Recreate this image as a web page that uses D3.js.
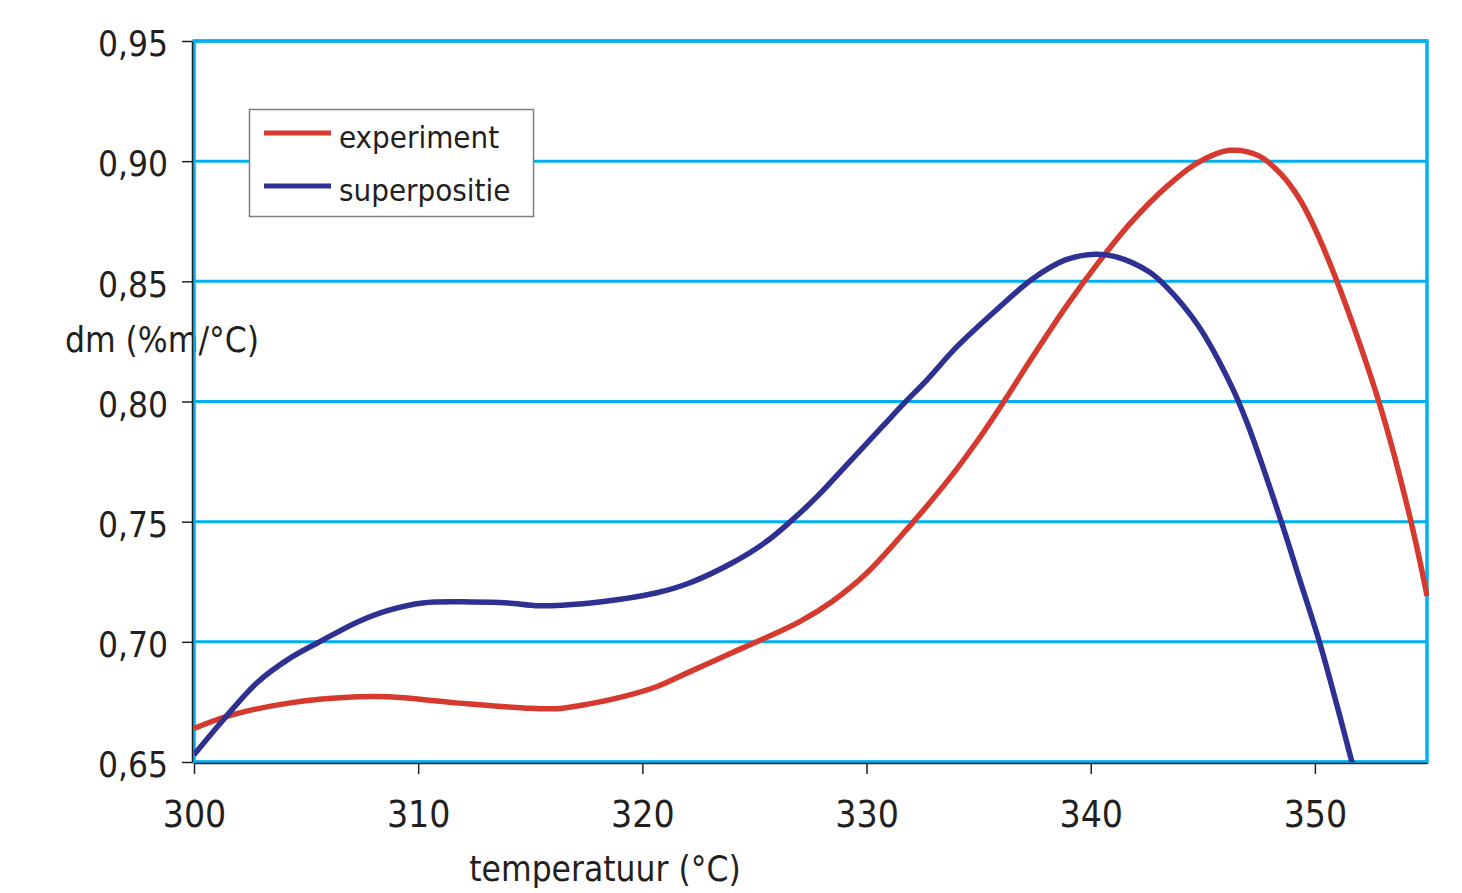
<!DOCTYPE html>
<html>
<head>
<meta charset="utf-8">
<script src="https://cdn.jsdelivr.net/npm/d3@7"></script>
<style>
    body { margin: 0; background: #fff; }
    text { font-family: "DejaVu Sans Condensed", "DejaVu Sans", sans-serif; font-stretch: condensed; fill: #231f20; }
</style>
</head>
<body>
<div id="chart"></div>
<script>

// experiment (red)
var expTemp = [300, 301.7, 304.3, 307.3, 308.7, 311.7, 314.7, 316.2, 317.7, 319.1, 320.6, 322.1, 324.0, 325.1,
    327.0, 328.5, 330.0, 332.0, 333.7, 335.2, 336.2, 337.4, 338.9, 340.4, 341.8, 343.4, 344.8, 346.2, 347.5,
    348.5, 349.3, 350.0, 350.9, 352.0, 352.85, 353.5, 354.05, 354.3, 354.95, 355];
var expVal = [0.664, 0.6696, 0.6746, 0.6771, 0.6771, 0.6746, 0.6725, 0.6722, 0.6743, 0.6771, 0.6812, 0.6875, 0.6955, 0.700,
    0.7083, 0.7170, 0.7285, 0.749, 0.768, 0.787, 0.801, 0.8185, 0.8395, 0.8585, 0.8745, 0.8895, 0.8995, 0.9045, 0.9022,
    0.8945, 0.8845, 0.872, 0.852, 0.824, 0.800, 0.779, 0.759, 0.7495, 0.7216, 0.719];

// superpositie (blue)
var supTemp = [300, 301.3, 302.8, 304.3, 305.6, 307.3, 308.7, 310.2, 312.4, 314.0, 315.4, 317.7, 319.1, 320.6, 322.1,
    324.0, 325.5, 326.6, 327.8, 329.2, 330.7, 331.7, 332.7, 334.0, 335.9, 337.4, 338.9, 340.2, 341.1, 342.6, 343.4,
    344.8, 346.3, 347.0, 348.5, 349.3, 350.2, 351.0, 351.65, 352];
var supVal = [0.653, 0.6675, 0.6829, 0.6933, 0.700, 0.7083, 0.7132, 0.7162, 0.7166, 0.7162, 0.715, 0.7162, 0.7178, 0.7203, 0.7245,
    0.7328, 0.7415, 0.750, 0.7605, 0.7745, 0.7895, 0.7995, 0.809, 0.8225, 0.839, 0.851, 0.859, 0.8613, 0.8603, 0.854, 0.8475,
    0.8315, 0.806, 0.7905, 0.750, 0.7265, 0.700, 0.673, 0.650, 0.637];

var xTicks = [300, 310, 320, 330, 340, 350];
var yTicks = [0.65, 0.70, 0.75, 0.80, 0.85, 0.90, 0.95];
var seriesNames = ["experiment", "superpositie"];
var seriesColors = ["#d63a2e", "#2e3192"];

var margin = {top: 41, right: 35, bottom: 131, left: 194},
    width = 1462 - margin.left - margin.right,
    height = 893 - margin.top - margin.bottom;

var svg = d3.select("#chart").append("svg")
    .attr("width", 1462)
    .attr("height", 893);

var x = d3.scaleLinear().domain([300, 355]).range([0, width]);
var y = d3.scaleLinear().domain([0.65, 0.95]).range([height, 0]);

var fmt = function (d) { return d3.format(".2f")(d).replace(".", ","); };

// y title goes under the axis lines
svg.append("text")
    .attr("x", 162)
    .attr("y", 352)
    .attr("text-anchor", "middle")
    .style("font-size", "35px")
    .text("dm (%m/°C)");

var g = svg.append("g")
    .attr("transform", "translate(" + margin.left + "," + margin.top + ")");

// grid
g.selectAll(".grid")
    .data(yTicks)
    .enter().append("line")
    .attr("class", "grid")
    .attr("x1", 0).attr("x2", width)
    .attr("y1", function (d) { return y(d); })
    .attr("y2", function (d) { return y(d); })
    .attr("stroke", "#00b0f0")
    .attr("stroke-width", 3);

g.append("rect")
    .attr("x", 0).attr("y", 0)
    .attr("width", width).attr("height", height)
    .attr("fill", "none")
    .attr("stroke", "#00b0f0")
    .attr("stroke-width", 3.5);

// axes
var xAxis = d3.axisBottom(x).tickValues(xTicks).tickSize(11).tickPadding(27).tickSizeOuter(0);
var yAxis = d3.axisLeft(y).tickValues(yTicks).tickSize(10).tickPadding(14).tickFormat(fmt).tickSizeOuter(0);

var gx = g.append("g")
    .attr("transform", "translate(0," + (height + 1) + ")")
    .call(xAxis);
gx.selectAll("text").style("font-size", "37px").attr("fill", "#231f20");
gx.select(".domain").attr("stroke", "#231f20").attr("stroke-width", 1.5);
gx.selectAll(".tick line").attr("stroke", "#231f20").attr("stroke-width", 1.5);

var gy = g.append("g")
    .attr("transform", "translate(-2,0)")
    .call(yAxis);
gy.selectAll("text").style("font-size", "35px").attr("fill", "#231f20").attr("dy", "0.42em");
gy.select(".domain").attr("stroke", "#231f20").attr("stroke-width", 1.5);
gy.selectAll(".tick line").attr("stroke", "#231f20").attr("stroke-width", 1.5);

svg.append("text")
    .attr("x", 605)
    .attr("y", 881)
    .attr("text-anchor", "middle")
    .style("font-size", "35px")
    .text("temperatuur (°C)");

// lines
g.append("clipPath").attr("id", "clip")
    .append("rect").attr("width", width + 2).attr("height", height);

var line = d3.line()
    .x(function (d) { return x(d[0]); })
    .y(function (d) { return y(d[1]); })
    .curve(d3.curveCatmullRom.alpha(0.5));

var series = [d3.zip(expTemp, expVal), d3.zip(supTemp, supVal)];

g.selectAll(".curve")
    .data(series)
    .enter().append("path")
    .attr("class", "curve")
    .attr("clip-path", "url(#clip)")
    .attr("d", line)
    .attr("fill", "none")
    .attr("stroke", function (d, i) { return seriesColors[i]; })
    .attr("stroke-width", 5.5)
    .attr("stroke-linejoin", "round");

// legend
var legend = svg.append("g");
legend.append("rect")
    .attr("x", 249.5).attr("y", 109.5)
    .attr("width", 284).attr("height", 107)
    .attr("fill", "#fff")
    .attr("stroke", "#7f7f7f")
    .attr("stroke-width", 1.5);

var items = legend.selectAll(".item")
    .data(seriesNames)
    .enter().append("g")
    .attr("class", "item")
    .attr("transform", function (d, i) { return "translate(0," + (133 + i * 53) + ")"; });

items.append("line")
    .attr("x1", 264).attr("x2", 331)
    .attr("stroke", function (d, i) { return seriesColors[i]; })
    .attr("stroke-width", 5);

items.append("text")
    .attr("x", 339)
    .attr("y", 15)
    .style("font-size", "31px")
    .text(function (d) { return d; });

</script>
</body>
</html>
